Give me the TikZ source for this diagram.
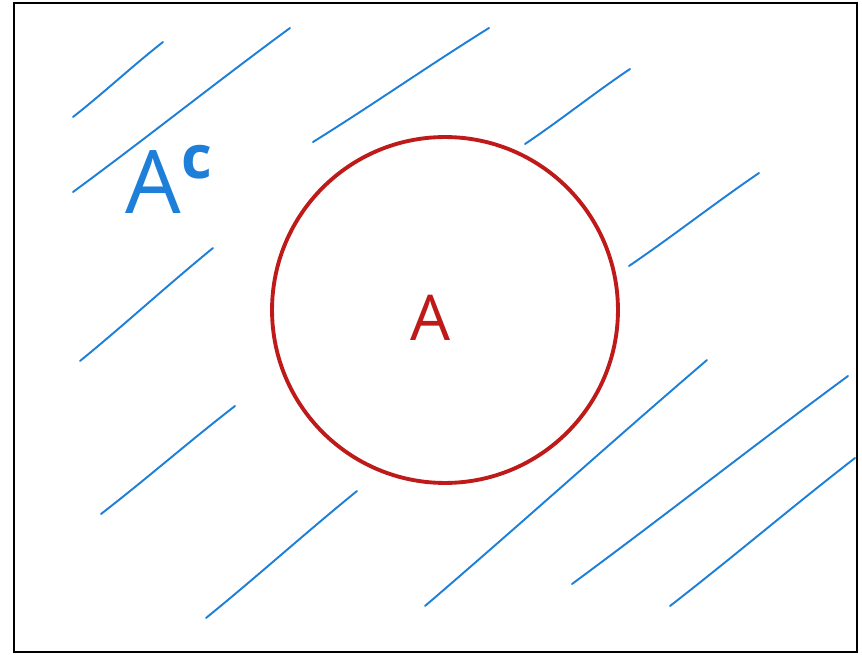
\documentclass[tikz,border=0pt]{standalone}
\usepackage{fontspec}
\setsansfont{Open Sans}
\usetikzlibrary{positioning,calc}
\definecolor{vnBlue}{HTML}{1E7FD8}
\definecolor{vnRed}{HTML}{BE1A1A}

\begin{document}
\begin{tikzpicture}[
  x=0.02cm, y=-0.02cm,
  marco/.style={draw=black, line width=1.4pt},
  conjunto/.style={circle, draw=vnRed, line width=2.2pt, minimum size=6.92cm, inner sep=0pt},
  trazo/.style={vnBlue, line width=1.1pt, line cap=round},
  etiqueta/.style={font=\sffamily, inner sep=0pt}
]
\useasboundingbox (0,0) rectangle (862,655);
\draw[marco] (14,3) rectangle (857,652);

\node[conjunto] (setA) at (445,310) {};
\node[etiqueta, text=vnRed, font=\sffamily\fontsize{36}{38}\selectfont] (lblA) at (431,318) {A};
\node[etiqueta, text=vnBlue, font=\sffamily\fontsize{50}{52}\selectfont] (lblAc) at (169,179)
  {A\raisebox{0.4em}{\fontsize{34}{36}\selectfont\bfseries c}};

% hatching of the complement
\foreach \xa/\ya/\xb/\yb in {73/117/163/42, 73/192/290/28, 313/142/489/28, 525/144/630/69,
    629/266/759/173, 80/361/213/248, 101/514/235/406, 206/618/357/491,
    425/606/707/360, 572/584/848/376, 670/606/855/458}
  \draw[trazo] (\xa,\ya) .. controls ($(\xa,\ya)!0.35!(\xb,\yb)+(0,1.5)$) and ($(\xa,\ya)!0.65!(\xb,\yb)+(0,-1.5)$) .. (\xb,\yb);

\end{tikzpicture}
\end{document}
